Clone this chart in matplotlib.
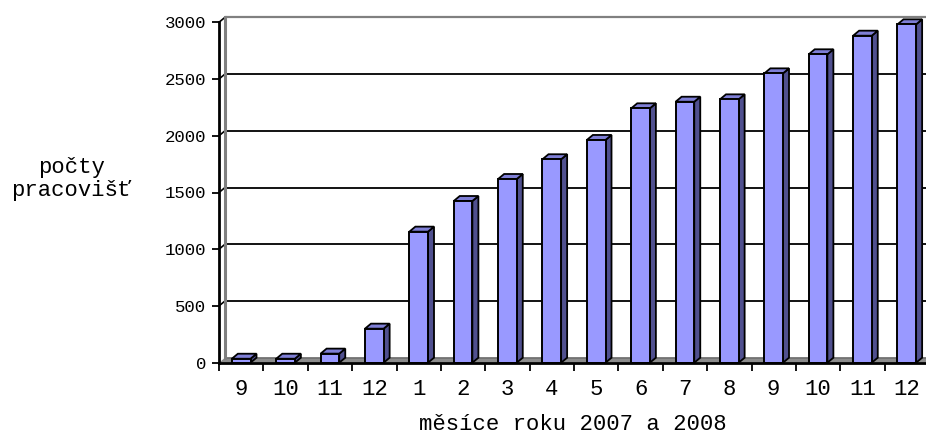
import matplotlib
matplotlib.use("Agg")
import matplotlib.pyplot as plt
import numpy as np

# ---- data ----
categories = ["9", "10", "11", "12", "1", "2", "3", "4", "5", "6", "7", "8", "9", "10", "11", "12"]
values = [35, 35, 80, 300, 1155, 1425, 1619, 1793, 1963, 2242, 2300, 2321, 2550, 2718, 2882, 2982]
yticks = [0, 500, 1000, 1500, 2000, 2500, 3000]
xlabel = "měsíce roku 2007 a 2008"
ylabel = "počty\npracovišť"

FONT = "Liberation Mono"
FRONT = "#9999ff"
SIDE = "#50508f"
TOP = "#7f7fd6"
FLOOR = "#8c8c8c"
WALL = "#808080"

W, H = 926, 437
fig = plt.figure(figsize=(W / 100, H / 100), dpi=100)
left, right = 219, 929
bottom, top = 362.7, 22.3
ax = fig.add_axes([left / W, (H - bottom) / H, (right - left) / W, (bottom - top) / H])

n = len(values)
x = np.arange(n)
ax.set_xlim(-0.5, n - 0.5)
ax.set_ylim(0, 3000)

# depth offsets (6 px right, 5 px up) converted to data units
p0 = ax.transData.transform((0, 0))
px_x = ax.transData.transform((1, 0))[0] - p0[0]
px_y = ax.transData.transform((0, 1))[1] - p0[1]
dx = 6 / px_x
dy = 5 / px_y

xl, xr = -0.5, n - 0.5

# floor
ax.fill([xl, xr + 1, xr + 1 + dx, xl + dx], [0, 0, dy, dy], color=FLOOR, zorder=1, clip_on=False, lw=0)
ax.plot([xl + dx, xr + 1], [dy, dy], color="#6e6e6e", lw=1.2, zorder=1.1, clip_on=False)

# back wall gridlines
for v in yticks[1:]:
    col = WALL if v == yticks[-1] else "black"
    ax.plot([xl + dx, xr + 1], [v + dy, v + dy], color=col, lw=1.6 if v == yticks[-1] else 1.3,
            zorder=1.2, clip_on=False, solid_capstyle="butt")
    ax.plot([xl, xl + dx], [v, v + dy], color="black", lw=1.2, zorder=1.2, clip_on=False)
# back wall left edge
ax.plot([xl + dx, xl + dx], [dy, yticks[-1] + dy], color=WALL, lw=2.2, zorder=1.3, clip_on=False)

# bars
w = 0.42
for xi, v in zip(x, values):
    x0, x1 = xi - w / 2, xi + w / 2
    ax.fill([x1, x1 + dx, x1 + dx, x1], [0, dy, v + dy, v], facecolor=SIDE, edgecolor="black",
            lw=1.3, zorder=3, clip_on=False, joinstyle="miter")
    ax.fill([x0, x0 + dx, x1 + dx, x1], [v, v + dy, v + dy, v], facecolor=TOP, edgecolor="black",
            lw=1.3, zorder=3, clip_on=False, joinstyle="miter")
ax.bar(x, values, width=w, color=FRONT, edgecolor="black", linewidth=1.4, zorder=4, clip_on=False)

# spines
for s in ["top", "right"]:
    ax.spines[s].set_visible(False)
ax.spines["left"].set_linewidth(2.0)
ax.spines["bottom"].set_linewidth(2.0)
ax.spines["bottom"].set_bounds(xl, xr + 1)
ax.spines["left"].set_zorder(5)
ax.spines["bottom"].set_zorder(5)

ax.set_yticks(yticks)
ax.set_yticklabels([str(v) for v in yticks], fontfamily=FONT, fontsize=12.5)
ax.tick_params(axis="y", direction="out", length=5, width=1.3, pad=4)

ax.set_xticks(x)
ax.set_xticklabels(categories, fontfamily=FONT, fontsize=16)
ax.set_xticks(np.arange(n + 1) - 0.5, minor=True)
ax.tick_params(axis="x", which="major", length=0, pad=12)
ax.tick_params(axis="x", which="minor", direction="out", length=5.5, width=1.3)

fig.text(573 / W, 1 - 425 / H, xlabel, ha="center", va="center", fontfamily=FONT, fontsize=16)
fig.text(71 / W, 1 - 179 / H, ylabel, ha="center", va="center", fontfamily=FONT, fontsize=16,
         linespacing=1.12, multialignment="center")

fig.savefig("out.png", dpi=100)
